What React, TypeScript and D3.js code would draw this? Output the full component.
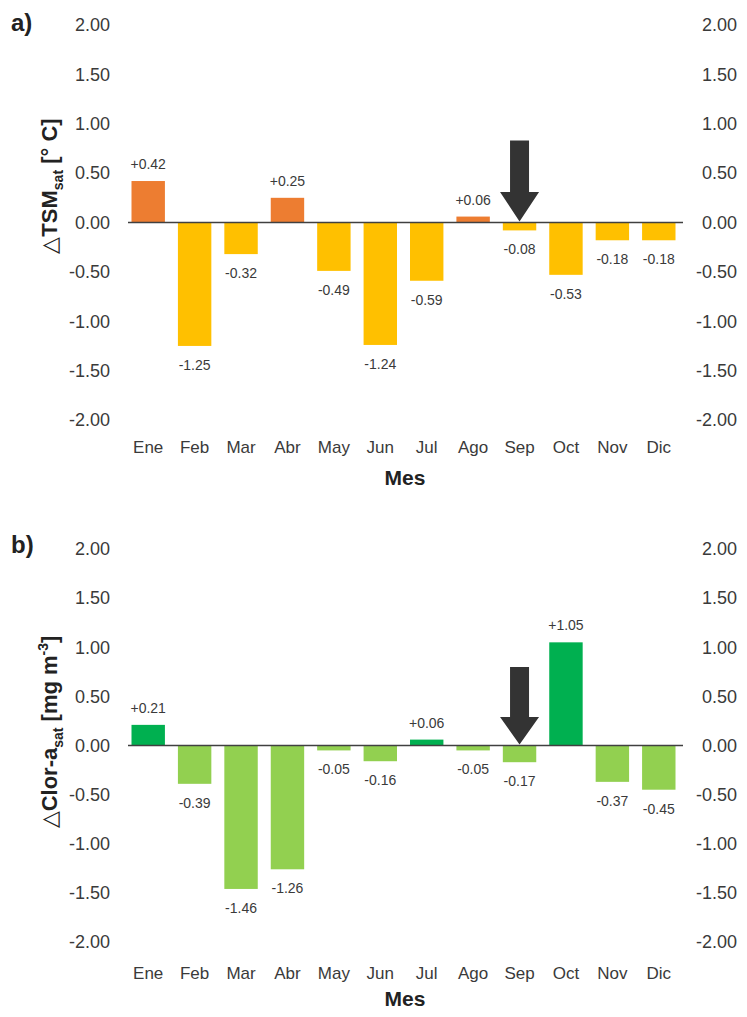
import * as d3 from 'd3'

const MONTHS = ['Ene', 'Feb', 'Mar', 'Abr', 'May', 'Jun', 'Jul', 'Ago', 'Sep', 'Oct', 'Nov', 'Dic']
const TICKS = [2, 1.5, 1, 0.5, 0, -0.5, -1, -1.5, -2]

// cambios mensuales
const TSM_VALUES = [0.42, -1.25, -0.32, 0.25, -0.49, -1.24, -0.59, 0.06, -0.08, -0.53, -0.18, -0.18]
const CLOR_VALUES = [0.21, -0.39, -1.46, -1.26, -0.05, -0.16, 0.06, -0.05, -0.17, 1.05, -0.37, -0.45]

const ARROW_MONTH = 'Sep'
const FONT = 'Liberation Sans, Arial, sans-serif'
const TEXT_COLOR = '#3a3a3a'

// guion normal en vez del signo menos unicode
const locale = d3.formatLocale({ decimal: '.', thousands: ',', grouping: [3], currency: ['', ''], minus: '-' })
const fmtTick = locale.format('.2f')
const fmtValue = locale.format('+.2f')

type PanelProps = {
  tag: string
  values: number[]
  top: number
  bottom: number
  posColor: string
  negColor: string
  monthY: number
  mesY: number
  tagY: number
  titleY: number
  arrowTop: number
  arrowHead: number
  title: React.ReactNode
}

function Panel({ tag, values, top, bottom, posColor, negColor, monthY, mesY, tagY, titleY, arrowTop, arrowHead, title }: PanelProps) {
  const x = d3.scaleBand<string>()
    .domain(MONTHS)
    .range([125, 682])
    .paddingInner(0.28)
    .paddingOuter(0.14)

  const y = d3.scaleLinear().domain([-2, 2]).range([bottom, top])
  const bw = x.bandwidth()

  // flecha sobre septiembre
  const ax = (x(ARROW_MONTH) ?? 0) + bw / 2
  const arrow = [
    [ax - 9.5, y(arrowTop)],
    [ax + 9.5, y(arrowTop)],
    [ax + 9.5, y(arrowHead)],
    [ax + 19.5, y(arrowHead)],
    [ax, y(0) - 1],
    [ax - 19.5, y(arrowHead)],
    [ax - 9.5, y(arrowHead)],
  ]

  return (
    <g fontFamily={FONT}>
      <text x={11} y={tagY} fontSize={24} fontWeight="bold" fill="#222">{tag}</text>

      {TICKS.map(t => (
        <g key={t}>
          <text x={110} y={y(t)} dy="0.35em" textAnchor="end" fontSize={18} fill={TEXT_COLOR}>{fmtTick(t)}</text>
          <text x={737} y={y(t)} dy="0.35em" textAnchor="end" fontSize={18} fill={TEXT_COLOR}>{fmtTick(t)}</text>
        </g>
      ))}

      <text
        transform={`translate(57, ${titleY}) rotate(-90)`}
        textAnchor="middle"
        fontSize={22}
        fontWeight="bold"
        fill="#222"
      >
        {title}
      </text>

      {values.map((v, i) => {
        const m = MONTHS[i]
        const x0 = x(m) ?? 0
        const yTop = y(Math.max(0, v))
        const yBot = y(Math.min(0, v))
        return (
          <g key={m}>
            <rect x={x0} y={yTop} width={bw} height={yBot - yTop} fill={v >= 0 ? posColor : negColor} />
            <text
              x={x0 + bw / 2}
              y={v >= 0 ? yTop - 12 : yBot + 24}
              textAnchor="middle"
              fontSize={14}
              fill={TEXT_COLOR}
            >
              {fmtValue(v)}
            </text>
          </g>
        )
      })}

      <line x1={128} x2={683} y1={y(0)} y2={y(0)} stroke="#404040" strokeWidth={1.5} />

      <polygon points={arrow.map(p => p.join(',')).join(' ')} fill="#333333" />

      {MONTHS.map(m => (
        <text key={m} x={(x(m) ?? 0) + bw / 2} y={monthY} textAnchor="middle" fontSize={17} fill={TEXT_COLOR}>{m}</text>
      ))}

      <text x={405} y={mesY} textAnchor="middle" fontSize={21} fontWeight="bold" fill="#222">Mes</text>
    </g>
  )
}

export default function App() {
  return (
    <div style={{ position: 'absolute', left: 0, top: 0 }}>
      <svg width={747} height={1017} style={{ display: 'block', background: '#fff' }}>
        <Panel
          tag="a)"
          values={TSM_VALUES}
          top={25}
          bottom={420}
          posColor="#ED7D31"
          negColor="#FFC000"
          monthY={453}
          mesY={485}
          tagY={31}
          titleY={186}
          arrowTop={0.83}
          arrowHead={0.31}
          title={<>
            <tspan fontWeight="normal">△</tspan>TSM
            <tspan fontSize={14} dy={6}>sat</tspan>
            <tspan dy={-6}> [° C]</tspan>
          </>}
        />
        <Panel
          tag="b)"
          values={CLOR_VALUES}
          top={549}
          bottom={942}
          posColor="#00B050"
          negColor="#92D050"
          monthY={979}
          mesY={1006}
          tagY={553}
          titleY={732}
          arrowTop={0.8}
          arrowHead={0.29}
          title={<>
            <tspan fontWeight="normal">△</tspan>Clor-a
            <tspan fontSize={14} dy={6}>sat</tspan>
            <tspan dy={-6}> [mg m</tspan>
            <tspan fontSize={14} dy={-9}>-3</tspan>
            <tspan dy={9}>]</tspan>
          </>}
        />
      </svg>
    </div>
  )
}
